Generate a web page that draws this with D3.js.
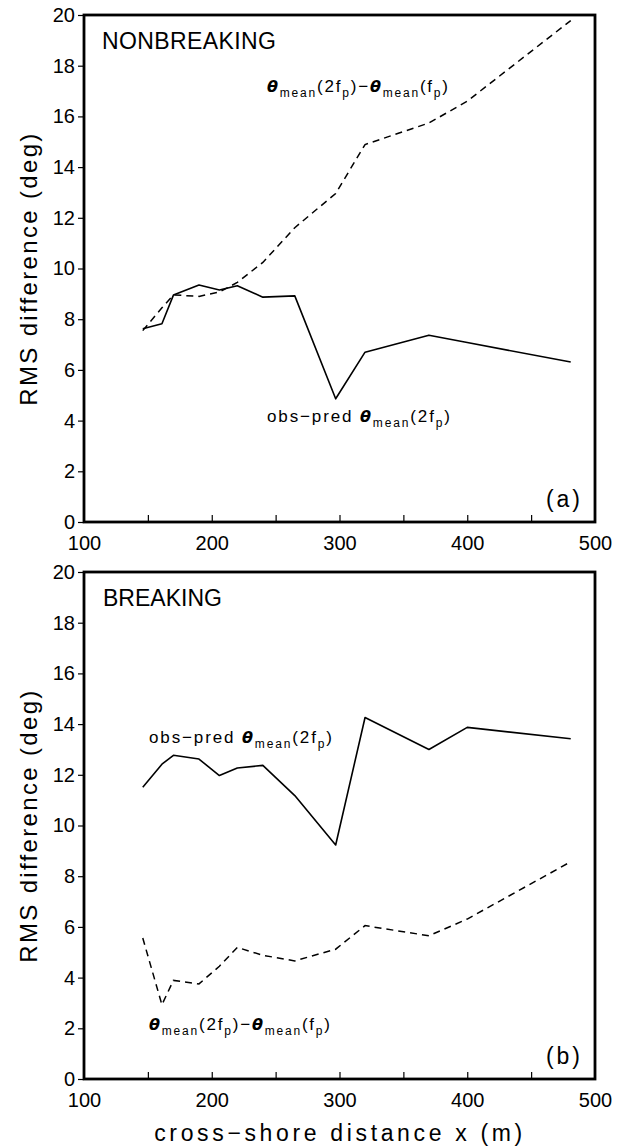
<!DOCTYPE html>
<html>
<head>
<meta charset="utf-8">
<script src="https://cdn.jsdelivr.net/npm/d3@7"></script>
<style>
  html, body { margin: 0; padding: 0; background: #fff; }
  svg { display: block; }
  text { font-family: "Liberation Sans", Arial, sans-serif; fill: #000; }
</style>
</head>
<body>
<svg id="chart" width="625" height="1148"></svg>
<script>
// Cross-shore stations (m)
const stations = [146, 161, 170, 190, 206, 220, 240, 265, 297, 320, 370, 400, 481];

// (a) nonbreaking: RMS difference (deg)
const nonbreakObsPred = [7.62, 7.82, 8.95, 9.35, 9.15, 9.32, 8.87, 8.92, 4.86, 6.70, 7.37, 7.08, 6.31];
const nonbreakSpread  = [7.55, 8.45, 8.96, 8.90, 9.07, 9.45, 10.24, 11.61, 12.96, 14.89, 15.74, 16.60, 19.78];

// (b) breaking: RMS difference (deg)
const breakObsPred = [11.51, 12.42, 12.77, 12.62, 11.97, 12.27, 12.37, 11.18, 9.23, 14.26, 13.00, 13.87, 13.42];
const breakSpread  = [5.56, 2.93, 3.89, 3.75, 4.45, 5.19, 4.88, 4.66, 5.12, 6.05, 5.65, 6.31, 8.57];

// Axis ticks
const xDomain = [100, 500];
const yDomain = [0, 20];
const xTickLabels = [100, 200, 300, 400, 500];
const xTickMarks = [150, 200, 250, 300, 350, 400, 450];
const yTicks = [0, 2, 4, 6, 8, 10, 12, 14, 16, 18, 20];

const svg = d3.select("#chart");
svg.append("rect").attr("width", 625).attr("height", 1148).attr("fill", "#fff");

const x = d3.scaleLinear().domain(xDomain).range([84, 595]);

// stretch a text element to a given width by letter spacing
function fitWidth(sel, target) {
  const node = sel.node();
  const w = node.getComputedTextLength();
  const n = node.getNumberOfChars();
  if (n > 1) sel.style("letter-spacing", ((target - w) / (n - 1)) + "px");
}

// text with theta / subscript pieces
function mathText(g, x0, y0, parts, target) {
  const t = g.append("text").attr("x", x0).attr("y", y0).style("font-size", "17px");
  let shift = 0;
  parts.forEach(p => {
    const s = t.append("tspan").text(p.t);
    const want = p.k === "sub" ? 5 : 0;
    if (want !== shift) { s.attr("dy", want - shift); shift = want; }
    if (p.k === "sub") s.style("font-size", "12px");
    if (p.k === "th") s.style("font-family", "'DejaVu Sans', sans-serif")
                       .style("font-weight", "bold").style("font-style", "italic").style("font-size", "16px");
  });
  fitWidth(t, target);
  return t;
}

const obsPredParts = [
  {t: "obs\u2212pred  "}, {t: "\u03b8", k: "th"}, {t: "mean", k: "sub"},
  {t: "(2f"}, {t: "p", k: "sub"}, {t: ")"}
];
const spreadParts = [
  {t: "\u03b8", k: "th"}, {t: "mean", k: "sub"}, {t: "(2f"}, {t: "p", k: "sub"},
  {t: ")\u2212"}, {t: "\u03b8", k: "th"}, {t: "mean", k: "sub"}, {t: "(f"}, {t: "p", k: "sub"}, {t: ")"}
];

function panel(cfg) {
  const y = d3.scaleLinear().domain(yDomain).range([cfg.bottom, cfg.top]);
  const g = svg.append("g");

  // y axis: ticks pointing out, labels on the left
  const yAxis = d3.axisLeft(y).tickValues(yTicks).tickSize(6).tickPadding(3).tickFormat(d3.format("d"));
  const ya = g.append("g").attr("transform", `translate(${x.range()[0]},0)`).call(yAxis);
  ya.select(".domain").remove();
  ya.selectAll(".tick line").attr("stroke", "#000").attr("stroke-width", 1.2);
  ya.selectAll(".tick text").style("font-size", "20px").style("font-family", "'Liberation Sans', Arial, sans-serif");

  // x axis: inward ticks
  const xAxisMarks = d3.axisBottom(x).tickValues(xTickMarks).tickSize(-7).tickFormat("");
  const xm = g.append("g").attr("transform", `translate(0,${cfg.bottom})`).call(xAxisMarks);
  xm.select(".domain").remove();
  xm.selectAll(".tick line").attr("stroke", "#000").attr("stroke-width", 1.2);

  const xAxisLabels = d3.axisBottom(x).tickValues(xTickLabels).tickSize(0).tickPadding(14).tickFormat(d3.format("d"));
  const xl = g.append("g").attr("transform", `translate(0,${cfg.bottom})`).call(xAxisLabels);
  xl.select(".domain").remove();
  xl.selectAll(".tick text").style("font-size", "20px").style("font-family", "'Liberation Sans', Arial, sans-serif");

  // frame
  g.append("rect")
    .attr("x", x.range()[0]).attr("y", cfg.top)
    .attr("width", x.range()[1] - x.range()[0]).attr("height", cfg.bottom - cfg.top)
    .attr("fill", "none").attr("stroke", "#000").attr("stroke-width", 2.8);

  const line = d3.line().x((d, i) => x(stations[i])).y(d => y(d));
  g.append("path").datum(cfg.solid).attr("d", line)
    .attr("fill", "none").attr("stroke", "#000").attr("stroke-width", 1.6).attr("stroke-linejoin", "round");
  g.append("path").datum(cfg.dashed).attr("d", line)
    .attr("fill", "none").attr("stroke", "#000").attr("stroke-width", 1.5).attr("stroke-dasharray", "7,5");

  // y axis title
  const yt = g.append("text")
    .attr("transform", `translate(37,${(cfg.top + cfg.bottom) / 2}) rotate(-90)`)
    .attr("text-anchor", "middle").style("font-size", "24px")
    .text("RMS difference (deg)");
  fitWidth(yt, 272);

  // panel title and letter
  const pt = g.append("text").attr("x", cfg.titleX).attr("y", cfg.top + 34).style("font-size", "23px").text(cfg.title);
  fitWidth(pt, cfg.titleW);
  const pl = g.append("text").attr("x", 546).attr("y", cfg.bottom - 15).style("font-size", "23px").text(cfg.letter);
  fitWidth(pl, 34);

  mathText(g, cfg.obsX, cfg.obsY, obsPredParts, 183);
  mathText(g, cfg.sprX, cfg.sprY, spreadParts, 181);
}

panel({
  top: 15, bottom: 522, solid: nonbreakObsPred, dashed: nonbreakSpread,
  title: "NONBREAKING", titleX: 102, titleW: 174, letter: "(a)",
  obsX: 267, obsY: 422, sprX: 267, sprY: 92
});
panel({
  top: 572, bottom: 1079, solid: breakObsPred, dashed: breakSpread,
  title: "BREAKING", titleX: 103, titleW: 119, letter: "(b)",
  obsX: 149, obsY: 743, sprX: 149, sprY: 1030
});

// x axis title
const xt = svg.append("text").attr("x", 340).attr("y", 1141).attr("text-anchor", "middle")
  .style("font-size", "23px").text("cross\u2212shore distance x (m)");
fitWidth(xt, 368);
</script>
</body>
</html>
